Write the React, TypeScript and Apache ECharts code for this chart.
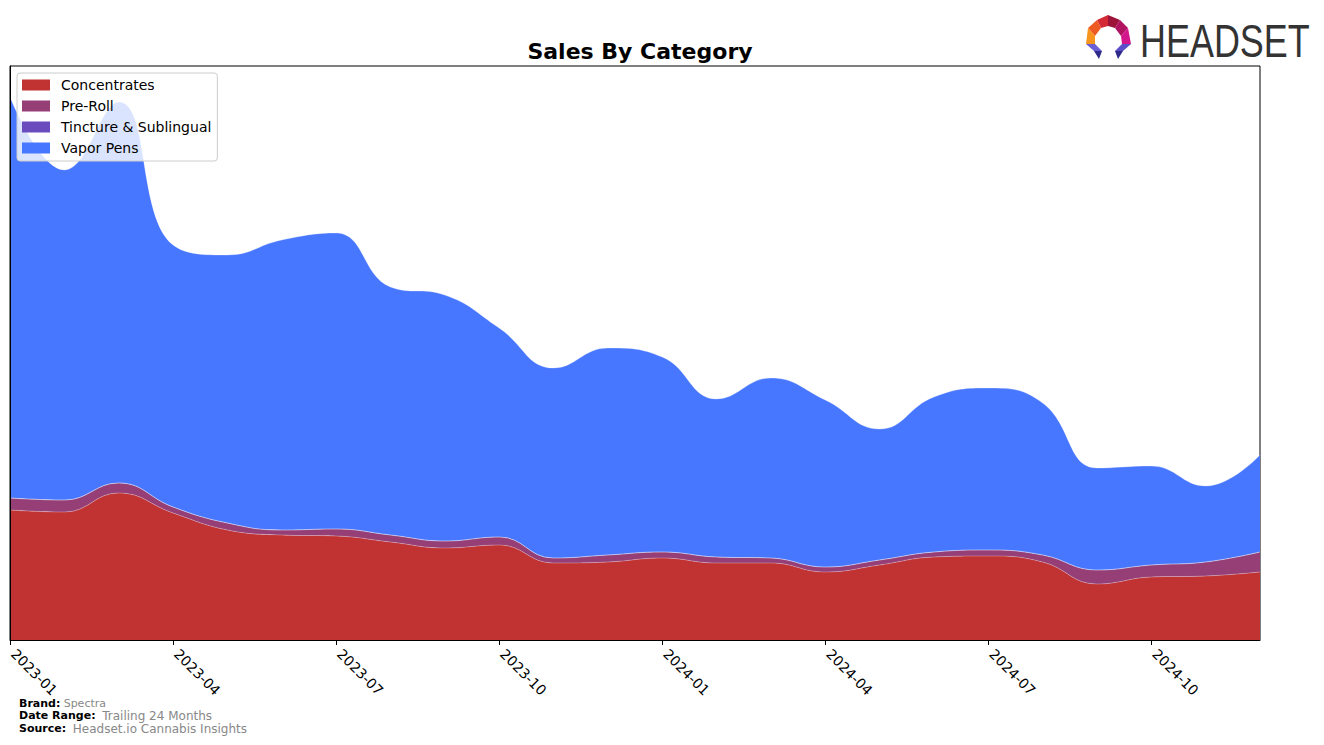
import React, { useEffect, useRef } from "react";
import * as echarts from "echarts";

const months = [
  "2023-01", "2023-02", "2023-03", "2023-04", "2023-05", "2023-06",
  "2023-07", "2023-08", "2023-09", "2023-10", "2023-11", "2023-12",
  "2024-01", "2024-02", "2024-03", "2024-04", "2024-05", "2024-06",
  "2024-07", "2024-08", "2024-09", "2024-10", "2024-11", "2024-12",
];

const concentrates = [130, 128, 147, 127, 110, 105, 104, 98, 92, 95, 77, 78, 82, 77, 77, 68, 75, 83, 84, 78, 56, 63, 64, 68];
const preRoll = [12, 12, 10, 6, 7, 5, 7, 7, 7, 8, 5, 7, 6, 6, 5, 5, 5, 5, 6, 7, 14, 12, 14, 20];
const tincture = [0, 0, 0, 0, 0, 0, 0, 0, 0, 0, 0, 0, 0, 0, 0, 0, 0, 0, 0, 0, 0, 0, 0, 0];
const vaporPens = [401, 330, 381, 262, 268, 290, 296, 248, 246, 209, 190, 207, 195, 158, 180, 167, 131, 155, 162, 152, 102, 99, 76, 97];

const seriesDefs = [
  { name: "Concentrates", data: concentrates, color: "#c13333" },
  { name: "Pre-Roll", data: preRoll, color: "#963f77" },
  { name: "Tincture & Sublingual", data: tincture, color: "#6a4cbe" },
  { name: "Vapor Pens", data: vaporPens, color: "#4877ff" },
];

const FONT = "DejaVu Sans";

export default function App() {
  const ref = useRef<HTMLDivElement>(null);
  useEffect(() => {
    if (!ref.current) return;
    const chart = echarts.init(ref.current, undefined, { renderer: "svg" });
    chart.setOption({
      animation: false,
      textStyle: { fontFamily: FONT },
      title: {
        text: "Sales By Category",
        left: 635,
        textAlign: "center",
        top: 35,
        textStyle: { fontFamily: FONT, fontSize: 22, fontWeight: "bold", color: "#000" },
      },
      legend: {
        orient: "vertical",
        left: 17,
        top: 73,
        itemWidth: 28,
        itemHeight: 11,
        itemGap: 5,
        padding: [4, 6, 5, 5],
        backgroundColor: "rgba(255,255,255,0.8)",
        borderColor: "#cccccc",
        borderWidth: 1,
        borderRadius: 3,
        icon: "rect",
        textStyle: { fontFamily: FONT, fontSize: 14, color: "#000", padding: [0, 0, 0, 6], lineHeight: 16 },
        data: seriesDefs.map((s) => s.name),
      },
      grid: {
        left: 10,
        right: 64,
        top: 66,
        bottom: 105,
        show: true,
        borderColor: "#000",
        borderWidth: 1,
      },
      xAxis: {
        type: "category",
        data: months,
        boundaryGap: false,
        axisLine: { show: true, lineStyle: { color: "#000", width: 1 } },
        axisTick: { show: true, interval: 2, length: 5, lineStyle: { color: "#000" } },
        axisLabel: {
          interval: 2,
          rotate: -45,
          fontFamily: FONT,
          fontSize: 14,
          color: "#000",
          margin: 8,
          padding: [0, 0, 0, 5],
        },
        splitLine: { show: false },
        z: 10,
      },
      yAxis: {
        type: "value",
        min: 0,
        max: 574,
        axisLine: { show: true, lineStyle: { color: "#000", width: 1 } },
        axisTick: { show: false },
        axisLabel: { show: false },
        splitLine: { show: false },
        z: 10,
      },
      graphic: [
        // logo icon
        { type: "polygon", shape: { points: [[1097, 20], [1108, 15], [1108, 26], [1101, 28]] }, style: { fill: "#d42a35" } },
        { type: "polygon", shape: { points: [[1108, 15], [1120, 20], [1115, 28], [1108, 26]] }, style: { fill: "#9e1339" } },
        { type: "polygon", shape: { points: [[1097, 20], [1101, 28], [1095, 36], [1088, 28]] }, style: { fill: "#ee5a24" } },
        { type: "polygon", shape: { points: [[1088, 28], [1095, 36], [1095, 44], [1086, 44]] }, style: { fill: "#f7941d" } },
        { type: "polygon", shape: { points: [[1120, 20], [1128, 28], [1121, 36], [1115, 28]] }, style: { fill: "#b0135f" } },
        { type: "polygon", shape: { points: [[1128, 28], [1131, 44], [1122, 44], [1121, 36]] }, style: { fill: "#d4168c" } },
        { type: "polygon", shape: { points: [[1086, 44], [1095, 44], [1102, 51], [1094, 51]] }, style: { fill: "#6a5fd6" } },
        { type: "polygon", shape: { points: [[1094, 51], [1102, 51], [1099, 59]] }, style: { fill: "#2e2a8a" } },
        { type: "polygon", shape: { points: [[1131, 44], [1122, 44], [1115, 51], [1123, 51]] }, style: { fill: "#5a4fc8" } },
        { type: "polygon", shape: { points: [[1123, 51], [1115, 51], [1118, 59]] }, style: { fill: "#2e2a8a" } },
        {
          type: "text",
          x: 1140,
          y: 17,
          scaleX: 0.765,
          style: { text: "HEADSET", fontFamily: "Liberation Sans", fontSize: 47, fill: "#333333", fontWeight: "normal" },
        },
        // footer
        {
          type: "text",
          x: 19,
          y: 703,
          style: {
            text: "{b|Brand:} {g|Spectra}",
            verticalAlign: "middle",
            rich: {
              b: { fontFamily: FONT, fontSize: 11, fontWeight: "bold", fill: "#000", lineHeight: 11 },
              g: { fontFamily: FONT, fontSize: 11, fill: "#888", lineHeight: 11 },
            },
          },
        },
        {
          type: "text",
          x: 19,
          y: 715.5,
          style: {
            text: "{b|Date Range:}  {g|Trailing 24 Months}",
            verticalAlign: "middle",
            rich: {
              b: { fontFamily: FONT, fontSize: 11, fontWeight: "bold", fill: "#000", lineHeight: 11 },
              g: { fontFamily: FONT, fontSize: 12, fill: "#888", lineHeight: 11 },
            },
          },
        },
        {
          type: "text",
          x: 19,
          y: 728.5,
          style: {
            text: "{b|Source:}  {g|Headset.io Cannabis Insights}",
            verticalAlign: "middle",
            rich: {
              b: { fontFamily: FONT, fontSize: 11, fontWeight: "bold", fill: "#000", lineHeight: 11 },
              g: { fontFamily: FONT, fontSize: 12, fill: "#888", lineHeight: 11 },
            },
          },
        },
      ],
      series: seriesDefs.map((s) => ({
        name: s.name,
        type: "line",
        stack: "total",
        smooth: 0.45,
        showSymbol: false,
        symbol: "none",
        data: s.data,
        itemStyle: { color: s.color },
        lineStyle: { width: 0.8, color: "rgba(255,255,255,0.35)" },
        areaStyle: { color: s.color, opacity: 1 },
      })),
    });
    return () => chart.dispose();
  }, []);
  return <div ref={ref} style={{ width: 1324, height: 745, position: "absolute", left: 0, top: 0 }} />;
}
